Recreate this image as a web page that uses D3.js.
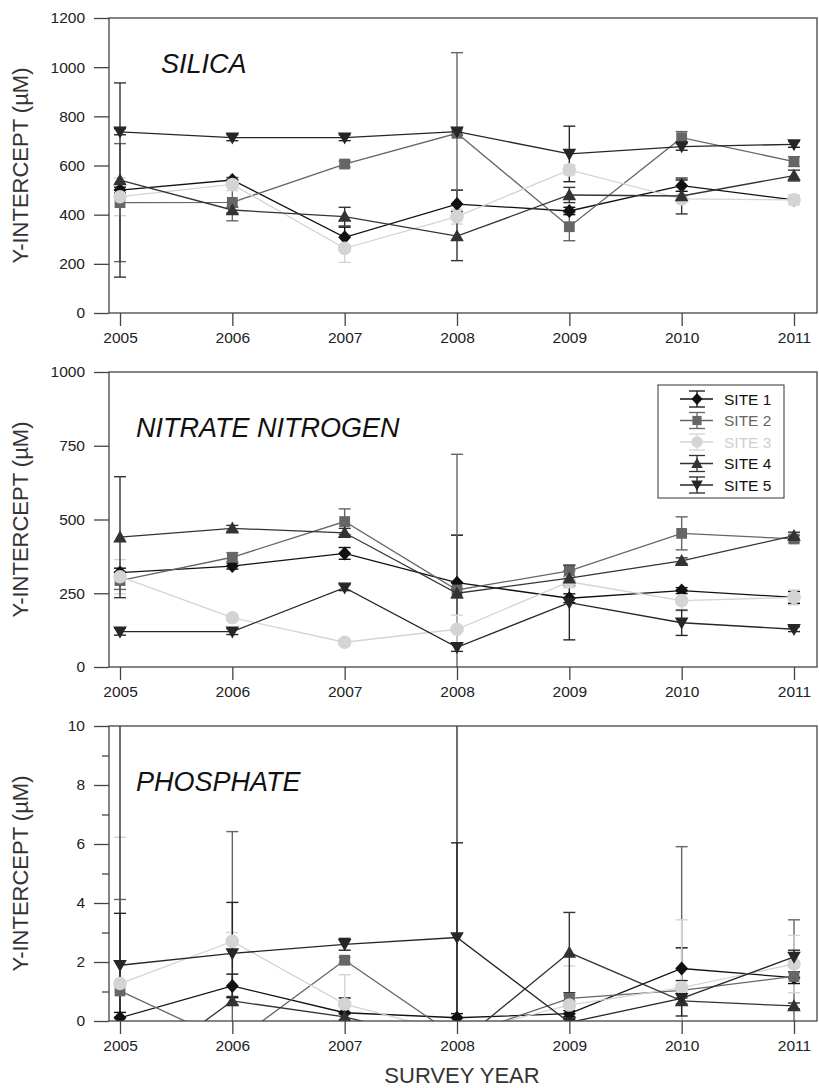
<!DOCTYPE html>
<html><head><meta charset="utf-8">
<script src="https://cdn.jsdelivr.net/npm/d3@7"></script>
<style>body{margin:0;background:#fff}svg{display:block;font-family:"Liberation Sans",Arial,sans-serif}</style>
</head><body>
<script>
const years = [2005, 2006, 2007, 2008, 2009, 2010, 2011];
const sites = ["SITE 1", "SITE 2", "SITE 3", "SITE 4", "SITE 5"];
const siteColors = ["#111111", "#666666", "#d4d4d4", "#333333", "#262626"];
const legendTextColors = ["#111111", "#666666", "#cfcfcf", "#111111", "#111111"];
const siteShapes = ["diamond", "square", "circle", "triangleUp", "triangleDown"];

// SILICA: mean and error per site (rows = sites, columns = years)
const silicaMean = [
  [500, 541, 308, 443, 415, 518, 460],
  [449, 450, 606, 731, 351, 713, 616],
  [473, 523, 263, 392, 582, 464, 460],
  [541, 419, 392, 313, 480, 476, 559],
  [737, 713, 713, 738, 647, 677, 686]
];
const silicaErr = [
  [12, 10, 41, 57, 15, 23, 10],
  [240, 75, 12, 328, 57, 25, 20],
  [77, 25, 57, 30, 20, 10, 20],
  [395, 12, 38, 100, 31, 73, 22],
  [12, 12, 12, 15, 113, 15, 12]
];
// NITRATE NITROGEN
const nitrateMean = [
  [320, 342, 385, 286, 233, 259, 236],
  [293, 372, 493, 261, 326, 453, 434],
  [306, 167, 84, 128, 289, 225, 236],
  [440, 470, 455, 250, 301, 360, 445],
  [120, 120, 269, 67, 218, 150, 128]
];
const nitrateErr = [
  [15, 10, 20, 161, 15, 10, 20],
  [30, 15, 43, 460, 20, 56, 12],
  [58, 10, 10, 48, 20, 35, 25],
  [205, 10, 15, 15, 25, 10, 12],
  [12, 10, 10, 14, 126, 43, 8]
];
// PHOSPHATE
const phosphateMean = [
  [0.11, 1.19, 0.28, 0.11, 0.25, 1.78, 1.47],
  [1.02, -0.75, 2.06, -0.55, 0.77, 1.04, 1.51],
  [1.27, 2.70, 0.57, -0.43, 0.54, 1.13, 1.93],
  [-2.1, 0.68, 0.14, -0.8, 2.32, 0.68, 0.51],
  [1.89, 2.29, 2.60, 2.83, -0.05, 0.77, 2.17]
];
const phosphateErr = [
  [0.18, 0.4, 0.5, 0.14, 0.1, 0.7, 0.2],
  [3.1, 7.17, 0.1, 0.3, 0.1, 4.87, 1.92],
  [4.96, 0.3, 1.0, 0.3, 1.33, 2.3, 0.97],
  [13, 0.15, 0.1, 12, 1.36, 0.1, 0.1],
  [1.76, 1.73, 0.2, 3.21, 0.1, 0.6, 0.23]
];

const silicaTicks = [0, 200, 400, 600, 800, 1000, 1200];
const nitrateTicks = [0, 250, 500, 750, 1000];
const phosphateTicks = [0, 2, 4, 6, 8, 10];
const phosphateMinor = [1, 3, 5, 7, 9];

const W = 819, H = 1088;
const left = 109, right = 817, plotH = 295;
const axisColor = "#444";
const svg = d3.select("body").append("svg").attr("width", W).attr("height", H);
const x = d3.scaleLinear().domain([2005, 2011]).range([120, 794]);

function shapePath(shape) {
  switch (shape) {
    case "diamond": return "M0,-7L6.5,0L0,7L-6.5,0Z";
    case "square": return "M-5.4,-5.4H5.4V5.4H-5.4Z";
    case "circle": return d3.symbol(d3.symbolCircle, Math.PI * 6.8 * 6.8)();
    case "triangleUp": return "M0,-6.8L6.8,5.2L-6.8,5.2Z";
    case "triangleDown": return "M0,6.8L6.8,-5.2L-6.8,-5.2Z";
  }
}

const panels = [
  {top: 18, max: 1200, ticks: silicaTicks, minor: [], title: "SILICA", tx: 161, ty: 73, mean: silicaMean, err: silicaErr},
  {top: 372, max: 1000, ticks: nitrateTicks, minor: [], title: "NITRATE NITROGEN", tx: 136, ty: 437, mean: nitrateMean, err: nitrateErr},
  {top: 726, max: 10, ticks: phosphateTicks, minor: phosphateMinor, title: "PHOSPHATE", tx: 136, ty: 791, mean: phosphateMean, err: phosphateErr}
];

panels.forEach((p, pi) => {
  const bottom = p.top + plotH;
  const y = d3.scaleLinear().domain([0, p.max]).range([bottom, p.top]);
  const g = svg.append("g");

  // y axis
  const ya = g.append("g").attr("transform", `translate(${left},0)`)
    .call(d3.axisLeft(y).tickValues(p.ticks).tickSize(15).tickPadding(9).tickFormat(d3.format("d")));
  ya.select(".domain").remove();
  ya.selectAll("line").attr("stroke", axisColor).attr("stroke-width", 1.3);
  ya.selectAll("text").attr("font-size", 15.5).attr("fill", "#222").attr("font-family", "Liberation Sans, Arial, sans-serif");
  if (p.minor.length) {
    const ym = g.append("g").attr("transform", `translate(${left},0)`)
      .call(d3.axisLeft(y).tickValues(p.minor).tickSize(7).tickFormat(""));
    ym.select(".domain").remove();
    ym.selectAll("line").attr("stroke", axisColor).attr("stroke-width", 1.3);
  }
  // x axis
  const xa = g.append("g").attr("transform", `translate(0,${bottom})`)
    .call(d3.axisBottom(x).tickValues(years).tickSize(13).tickPadding(6).tickFormat(d3.format("d")));
  xa.select(".domain").remove();
  xa.selectAll("line").attr("stroke", axisColor).attr("stroke-width", 1.3);
  xa.selectAll("text").attr("font-size", 15.5).attr("fill", "#222").attr("font-family", "Liberation Sans, Arial, sans-serif");

  // y title
  g.append("text").attr("transform", `translate(28,${(p.top + bottom) / 2}) rotate(-90)`)
    .attr("text-anchor", "middle").attr("font-size", 22).attr("fill", "#333")
    .text("Y-INTERCEPT (µM)");

  // panel title
  g.append("text").attr("x", p.tx).attr("y", p.ty).attr("font-size", 27).attr("font-style", "italic")
    .attr("fill", "#111").text(p.title);

  // clip
  const cid = "clip" + pi;
  svg.append("clipPath").attr("id", cid).append("rect")
    .attr("x", left).attr("y", p.top).attr("width", right - left).attr("height", plotH);
  const dg = g.append("g").attr("clip-path", `url(#${cid})`);

  // error bars
  p.mean.forEach((vals, si) => {
    const eg = dg.append("g").attr("stroke", siteColors[si]).attr("stroke-width", 1.4).attr("fill", "none");
    vals.forEach((v, yi) => {
      const e = p.err[si][yi];
      const cx = x(years[yi]);
      const y1 = y(v + e), y2 = y(v - e);
      eg.append("line").attr("x1", cx).attr("x2", cx).attr("y1", y1).attr("y2", y2);
      eg.append("line").attr("x1", cx - 6).attr("x2", cx + 6).attr("y1", y1).attr("y2", y1);
      eg.append("line").attr("x1", cx - 6).attr("x2", cx + 6).attr("y1", y2).attr("y2", y2);
    });
  });
  // lines and markers
  p.mean.forEach((vals, si) => {
    const line = d3.line().x((d, i) => x(years[i])).y(d => y(d));
    dg.append("path").datum(vals).attr("d", line).attr("fill", "none")
      .attr("stroke", siteColors[si]).attr("stroke-width", 1.3);
    dg.selectAll(null).data(vals).enter().append("path")
      .attr("transform", (d, i) => `translate(${x(years[i])},${y(d)})`)
      .attr("d", shapePath(siteShapes[si])).attr("fill", siteColors[si]);
  });

  // frame
  g.append("rect").attr("x", left).attr("y", p.top).attr("width", right - left).attr("height", plotH)
    .attr("fill", "none").attr("stroke", axisColor).attr("stroke-width", 1.3);
});

// legend
const lg = svg.append("g");
lg.append("rect").attr("x", 658).attr("y", 385).attr("width", 126).attr("height", 113)
  .attr("fill", "#fff").attr("stroke", "#333").attr("stroke-width", 1);
sites.forEach((s, i) => {
  const cy = 399 + i * 21.5;
  const c = siteColors[i];
  lg.append("line").attr("x1", 680).attr("x2", 713).attr("y1", cy).attr("y2", cy).attr("stroke", c).attr("stroke-width", 1.3);
  lg.append("line").attr("x1", 697).attr("x2", 697).attr("y1", cy - 8).attr("y2", cy + 8).attr("stroke", c).attr("stroke-width", 1.3);
  lg.append("line").attr("x1", 689).attr("x2", 705).attr("y1", cy - 8).attr("y2", cy - 8).attr("stroke", c).attr("stroke-width", 1.3);
  lg.append("line").attr("x1", 689).attr("x2", 705).attr("y1", cy + 8).attr("y2", cy + 8).attr("stroke", c).attr("stroke-width", 1.3);
  lg.append("path").attr("transform", `translate(697,${cy}) scale(0.85)`).attr("d", shapePath(siteShapes[i])).attr("fill", c);
  lg.append("text").attr("x", 724).attr("y", cy + 5.5).attr("font-size", 15.5).attr("fill", legendTextColors[i]).text(s);
});

// x title
svg.append("text").attr("x", 462).attr("y", 1083).attr("text-anchor", "middle")
  .attr("font-size", 22).attr("fill", "#333").text("SURVEY YEAR");
</script>
</body></html>
